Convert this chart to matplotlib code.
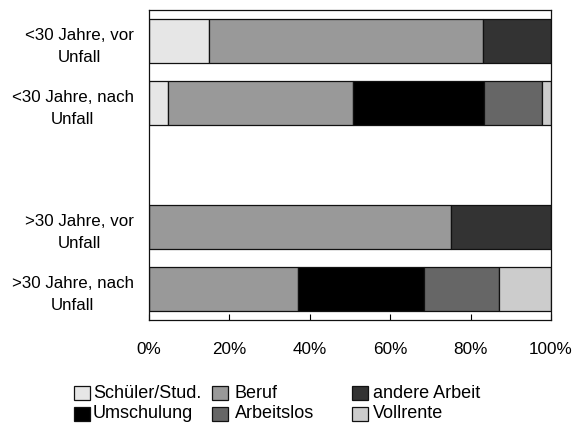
import matplotlib
matplotlib.use("Agg")
import matplotlib.pyplot as plt
from matplotlib.patches import Rectangle
import numpy as np

plt.rcParams['font.family'] = ['Liberation Sans', 'DejaVu Sans']

categories = ["<30 Jahre, vor\nUnfall", "<30 Jahre, nach\nUnfall", "", ">30 Jahre, vor\nUnfall", ">30 Jahre, nach\nUnfall"]
series_names = ["Schüler/Stud.", "Beruf", "andere Arbeit", "Umschulung", "Arbeitslos", "Vollrente"]
schueler     = [15.0, 4.8, 0, 0, 0]
beruf        = [68.0, 46.0, 0, 75.0, 37.0]
andere       = [17.0, 0, 0, 25.0, 0]
umschulung   = [0, 32.5, 0, 0, 31.5]
arbeitslos   = [0, 14.5, 0, 0, 18.6]
vollrente    = [0, 2.2, 0, 0, 12.9]
xticklabels = ["0%", "20%", "40%", "60%", "80%", "100%"]

# stacking order left to right
stack_order = [schueler, beruf, umschulung, arbeitslos, andere, vollrente]
stack_colors = ["#e6e6e6", "#999999", "#000000", "#666666", "#333333", "#cccccc"]
legend_colors = {"Schüler/Stud.": "#e6e6e6", "Beruf": "#999999", "andere Arbeit": "#333333",
                 "Umschulung": "#000000", "Arbeitslos": "#666666", "Vollrente": "#cccccc"}

fig = plt.figure(figsize=(5.76, 4.30), dpi=100)
ax = fig.add_axes([149/576, 1-320/430, 402/576, 310/430])

y = np.arange(len(categories))
left = np.zeros(len(categories))
for vals, col in zip(stack_order, stack_colors):
    v = np.array(vals, dtype=float)
    mask = v > 0
    ax.barh(y[mask], v[mask], left=left[mask], height=0.71, color=col,
            edgecolor="#111111", linewidth=0.9)
    left += v

ax.set_xlim(0, 100)
ax.set_ylim(len(categories) - 0.5, -0.5)
ax.set_xticks(np.linspace(0, 100, 6))
ax.set_xticklabels(xticklabels, fontsize=12.3)
ax.tick_params(axis='x', direction='in', length=4, width=0.8, pad=16)
ax.set_yticks(y)
ax.set_yticklabels(categories, fontsize=12.2, multialignment='center', linespacing=1.65)
ax.tick_params(axis='y', length=0, pad=11)
for s in ax.spines.values():
    s.set_linewidth(0.9)
    s.set_color("#111111")

# legend grid
col_x = [74, 212, 352]
text_off = [19, 23, 21]
row_y = [393, 414]
layout = [["Schüler/Stud.", "Beruf", "andere Arbeit"],
          ["Umschulung", "Arbeitslos", "Vollrente"]]
W, H = 576, 430
for r, row in enumerate(layout):
    for c, name in enumerate(row):
        x0 = col_x[c]
        yc = row_y[r]
        fig.add_artist(Rectangle((x0 / W, 1 - (yc + 7) / H), 16 / W, 14 / H,
                                 transform=fig.transFigure, facecolor=legend_colors[name],
                                 edgecolor="#111111", linewidth=0.9))
        fig.text((x0 + text_off[c]) / W, 1 - yc / H, name, fontsize=13, va='center', ha='left')

fig.savefig("out.png", dpi=100)
